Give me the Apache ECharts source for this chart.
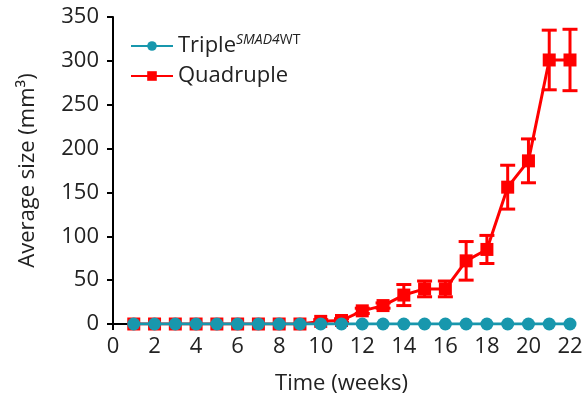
<!DOCTYPE html>
<html><head><meta charset="utf-8">
<script src="https://cdn.jsdelivr.net/npm/echarts@6/dist/echarts.min.js"></script>
<style>html,body{margin:0;padding:0;background:#fff}#c{width:587px;height:404px}</style>
</head><body><div id="c"></div>
<script>
const weeks = [1,2,3,4,5,6,7,8,9,10,11,12,13,14,15,16,17,18,19,20,21,22];
const tripleVals = [0,0,0,0,0,0,0,0,0,0,0,0,0,0,0,0,0,0,0,0,0,0];
const quadVals = [0,0,0,0,0,0,0,0,0,3,4,15,21,33,40,40,72,85,156,186,301,301];
const quadErr = [0,0,0,0,0,0,0,0,0,2,2,3,3,12,9,9,22,16,25,25,34,35];
const xTicks = [0,2,4,6,8,10,12,14,16,18,20,22];
const yTicks = [0,50,100,150,200,250,300,350];

const RED = '#ff0000', TEAL = '#1897ad';
const FONT = 'Open Sans';
const FS = 22;
const chart = echarts.init(document.getElementById('c'));
const errData = weeks.map((w,i)=>[w, quadVals[i]-quadErr[i], quadVals[i]+quadErr[i]]);
chart.setOption({
  animation:false,
  textStyle:{fontFamily:FONT},
  grid:{left:113,right:17,top:17,bottom:80},
  legend:{
    orient:'vertical', left:125, top:28, itemWidth:42, itemHeight:12, itemGap:8,
    data:['Triple','Quadruple'],
    formatter:n=> n==='Triple' ? '{a|Triple}{s|SMAD4}{t|WT}' : '{a|Quadruple}',
    textStyle:{fontFamily:FONT,fontSize:FS,color:'#222',
      rich:{a:{fontFamily:FONT,fontSize:FS,color:'#222'},
            s:{fontFamily:FONT,fontSize:14,fontStyle:'italic',color:'#222',padding:[0,0,12,0]},
            t:{fontFamily:FONT,fontSize:14,color:'#222',padding:[0,0,12,0]}}}
  },
  xAxis:{type:'value',min:xTicks[0],max:xTicks[xTicks.length-1],interval:2,
    name:'Time (weeks)',nameLocation:'middle',nameGap:49,
    nameTextStyle:{fontFamily:FONT,fontSize:FS,color:'#222'},
    axisLine:{lineStyle:{color:'#000',width:2}},
    axisTick:{show:true,length:6,lineStyle:{color:'#000',width:2}},
    axisLabel:{fontFamily:FONT,fontSize:FS,color:'#222',margin:12},
    splitLine:{show:false}},
  yAxis:{type:'value',min:yTicks[0],max:yTicks[yTicks.length-1],interval:50,
    name:'Average size (mm³)',nameLocation:'middle',nameGap:74,
    nameTextStyle:{fontFamily:FONT,fontSize:FS,color:'#222'},
    axisLine:{show:true,lineStyle:{color:'#000',width:2}},
    axisTick:{show:true,length:6,lineStyle:{color:'#000',width:2}},
    axisLabel:{fontFamily:FONT,fontSize:FS,color:'#222',margin:14},
    splitLine:{show:false}},
  series:[
    {name:'Quadruple',type:'line',data:weeks.map((w,i)=>[w,quadVals[i]]),
     symbol:'rect',symbolSize:13,itemStyle:{color:RED},lineStyle:{color:RED,width:3},z:3},
    {name:'Quadruple-err',type:'custom',data:errData,z:2,
     renderItem:(p,api)=>{
       const x=api.value(0), lo=api.value(1), hi=api.value(2);
       if(hi-lo<=0) return;
       const a=api.coord([x,lo]), b=api.coord([x,hi]); const hw=7.5;
       const st={stroke:RED,lineWidth:3};
       return {type:'group',children:[
         {type:'line',shape:{x1:a[0],y1:a[1],x2:b[0],y2:b[1]},style:st},
         {type:'line',shape:{x1:a[0]-hw,y1:a[1],x2:a[0]+hw,y2:a[1]},style:st},
         {type:'line',shape:{x1:b[0]-hw,y1:b[1],x2:b[0]+hw,y2:b[1]},style:st}]};
     }},
    {name:'Triple',type:'line',data:weeks.map((w,i)=>[w,tripleVals[i]]),
     symbol:'circle',symbolSize:13,itemStyle:{color:TEAL},lineStyle:{color:TEAL,width:3},z:4}
  ]
});
</script></body></html>
